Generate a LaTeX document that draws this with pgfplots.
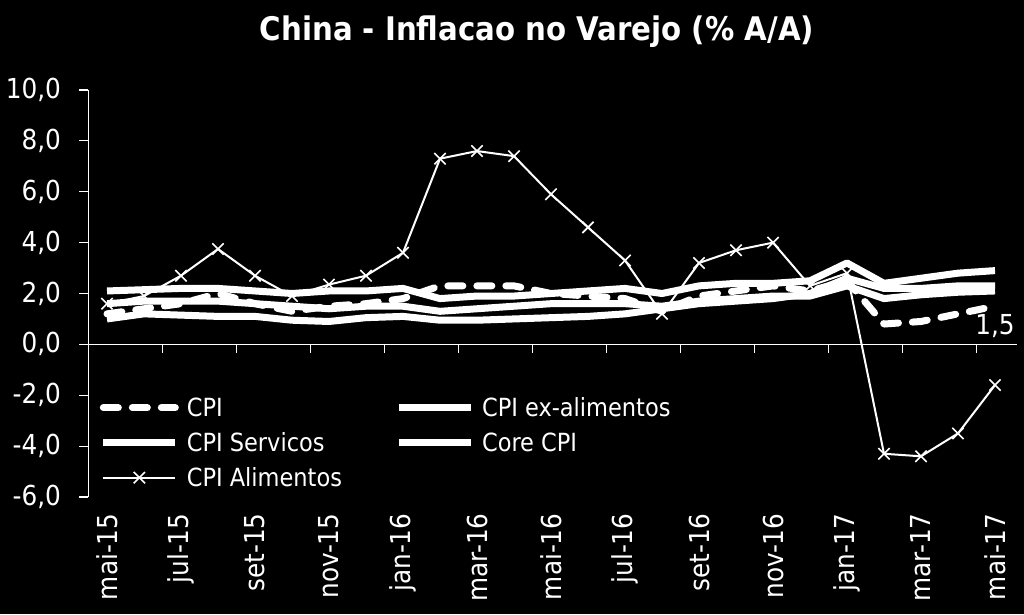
\documentclass[border=0pt]{standalone}
\usepackage{pgfplots}
\usepackage{pgfplotstable}
\pgfplotsset{compat=1.18}
\usepackage{fontspec}
\setmainfont{DejaVu Sans Condensed}
\usetikzlibrary{backgrounds}
\newcommand{\fs}{\fontsize{25}{30}\selectfont}
\newcommand{\ft}{\fontsize{27.5}{32}\selectfont}
\pgfplotstableread{
i cpi exal serv core alim
0 1.2 1.0 2.1 1.6 1.6
1 1.4 1.2 2.15 1.7 1.9
2 1.6 1.15 2.2 1.7 2.7
3 2.0 1.1 2.2 1.7 3.75
4 1.6 1.1 2.1 1.6 2.7
5 1.3 0.95 2.0 1.5 1.9
6 1.5 0.9 2.1 1.4 2.35
7 1.6 1.05 2.1 1.5 2.7
8 1.8 1.1 2.2 1.5 3.6
9 2.3 0.95 1.8 1.3 7.3
10 2.3 0.95 1.9 1.4 7.6
11 2.3 1.0 1.9 1.5 7.4
12 2.0 1.05 2.0 1.6 5.9
13 1.9 1.1 2.1 1.6 4.6
14 1.8 1.2 2.2 1.6 3.3
15 1.3 1.4 2.0 1.5 1.2
16 1.9 1.6 2.3 1.7 3.2
17 2.1 1.7 2.4 1.8 3.7
18 2.3 1.8 2.4 1.9 4.0
19 2.1 2.0 2.5 1.9 2.3
20 2.5 2.6 3.2 2.3 2.8
21 0.8 2.2 2.4 1.8 -4.3
22 0.9 2.2 2.6 1.95 -4.4
23 1.2 2.3 2.8 2.05 -3.5
24 1.5 2.3 2.9 2.1 -1.6
}\data
\begin{document}
\begin{tikzpicture}
\begin{axis}[name=ax, scale only axis, width=925pt, height=407pt,
  xmin=-0.5, xmax=24.5, ymin=-6, ymax=10,
  axis lines*=left,
  x axis line style={draw=none},
  y axis line style={white, line width=1.2pt},
  xtick={0,2,...,24},
  xticklabels={mai-15,jul-15,set-15,nov-15,jan-16,mar-16,mai-16,jul-16,set-16,nov-16,jan-17,mar-17,mai-17},
  x tick style={draw=none},
  xticklabel style={rotate=90, anchor=east, font=\ft, text=white, xshift=-4pt},
  ytick={-6,-4,...,10},
  y tick style={white, line width=1.2pt},
  tick align=outside, major tick length=9pt,
  /pgf/number format/fixed, /pgf/number format/fixed zerofill,
  /pgf/number format/precision=1, /pgf/number format/use comma,
  /pgf/number format/assume math mode=true,
  yticklabel style={font=\ft, text=white, xshift=-15pt},
  clip=false,
  legend columns=2,
  legend style={at={(axis cs:-0.28,-1.92)}, anchor=north west, draw=none, fill=none,
    text=white, font=\fs, row sep=10.5pt,
    nodes={inner xsep=8pt},
    /tikz/every even column/.append style={column sep=45pt}},
  legend cell align=left,
  legend image code/.code={\draw[mark repeat=2,mark phase=2,#1] plot coordinates {(0pt,0pt) (36pt,0pt) (72pt,0pt)};},
]
\draw[white, line width=1.2pt] (axis cs:-0.5,0) -- (axis cs:24.6,0);
\pgfplotsinvokeforeach{1.5,3.5,5.5,7.5,9.5,11.5,13.5,15.5,17.5,19.5,21.5,23.5}{
  \draw[white, line width=1.2pt] (axis cs:#1,0) -- ++(0pt,-9pt);
}
\addplot[white, line width=7pt, dash pattern=on 15pt off 14pt, line cap=round, line join=round] table[x=i,y=cpi] {\data};
\addlegendentry{CPI}
\addplot[white, line width=7pt, line join=round] table[x=i,y=exal] {\data};
\addlegendentry{CPI ex-alimentos}
\addplot[white, line width=7pt, line join=round] table[x=i,y=serv] {\data};
\addlegendentry{CPI Servicos}
\addplot[white, line width=7pt, line join=round] table[x=i,y=core] {\data};
\addlegendentry{Core CPI}
\addplot[white, line width=2pt, mark=x, mark size=8pt, mark options={line width=1.6pt}] table[x=i,y=alim] {\data};
\addlegendentry{CPI Alimentos}
\node[text=white, font=\ft] at (axis cs:24,0.7) {1,5};
\end{axis}
\node[text=white, font=\bfseries\fontsize{32.5}{36}\selectfont] at ([shift={(448.5pt,58pt)}]ax.north west) {China - Inflacao no Varejo (\% A/A)};
\pgfresetboundingbox
\begin{scope}[on background layer]
\fill[black] ([shift={(-88.5pt,-117pt)}]ax.south west) rectangle ([shift={(10.5pt,90pt)}]ax.north east);
\end{scope}
\end{tikzpicture}
\end{document}
